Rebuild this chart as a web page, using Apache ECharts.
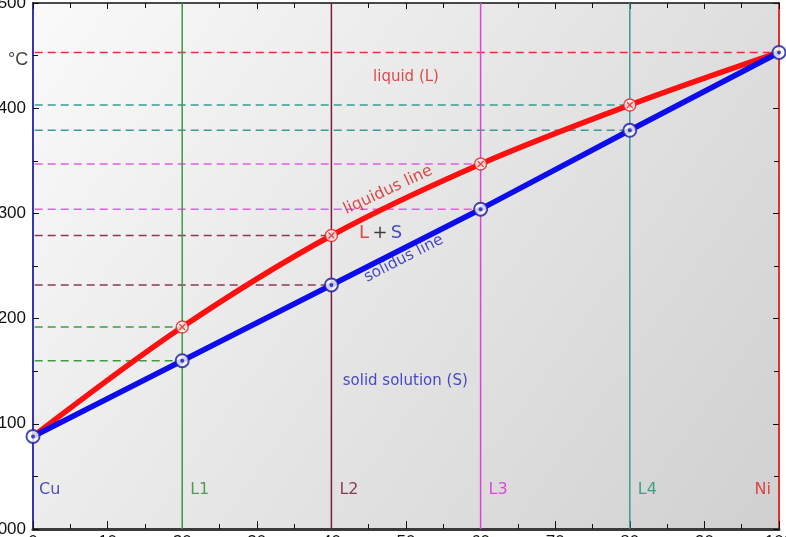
<!DOCTYPE html>
<html><head><meta charset="utf-8">
<script src="https://cdn.jsdelivr.net/npm/echarts@6/dist/echarts.min.js"></script>
<style>html,body{margin:0;padding:0;background:#fff}#c{width:786px;height:537px}</style>
</head><body><div id="c"></div>
<script>
// ---- data ----
const compositions = [0, 20, 40, 60, 80, 100];            // wt% Ni
const liquidus = [1088, 1192, 1279, 1347, 1403, 1453];      // °C
const solidus  = [1088, 1160, 1232, 1304, 1379, 1453];      // °C
const alloyX = [20, 40, 60, 80];
const alloyNames = ['L1', 'L2', 'L3', 'L4'];
const alloyColors = ['#3f9a3f', '#7e1a3c', '#e040e0', '#3a9a96'];
const alloyDashColors = ['#3f9a3f', '#8a3a58', '#e060e0', '#3a9a96'];
const alloyLabelColors = ['#2e8a2e', '#6e1030', '#e020e0', '#1f8f70'];
const yMin = 1000, yMax = 1500;
const xMin = 0, xMax = 100;
const dashStartX = -5;

const series = [];
const font = 'DejaVu Sans';

// horizontal dashed guide lines
function dash(x, t, color) {
  series.push({type: 'line', silent: true, clip: false, symbol: 'none', z: 1,
    data: [[dashStartX, t], [x, t]],
    lineStyle: {color: color, width: 1.5, type: [8, 5]}});
}
dash(0, liquidus[0], '#3030b0');
dash(100, liquidus[5], '#e03040');
alloyX.forEach((x, i) => {
  const k = compositions.indexOf(x);
  dash(x, liquidus[k], alloyDashColors[i]);
  dash(x, solidus[k], alloyDashColors[i]);
});
// vertical alloy lines
alloyX.forEach((x, i) => {
  series.push({type: 'line', silent: true, symbol: 'none', z: 2,
    data: [[x, yMin], [x, yMax]],
    lineStyle: {color: alloyColors[i], width: 1.5}});
});
// liquidus & solidus
series.push({type: 'line', name: 'liquidus', symbol: 'none', smooth: 0.35, z: 4,
  data: compositions.map((x, i) => [x, liquidus[i]]),
  lineStyle: {color: '#ff1010', width: 5.5}});
series.push({type: 'line', name: 'solidus', symbol: 'none', z: 5,
  data: compositions.map((x, i) => [x, solidus[i]]),
  lineStyle: {color: '#0c0cec', width: 5.5}});
// markers
const liqPts = compositions.slice(1, 5).map((x, i) => [x, liquidus[i + 1]]);
const solPts = compositions.map((x, i) => [x, solidus[i]]);
series.push({type: 'scatter', clip: false, z: 6, symbol: 'circle', symbolSize: 12, data: liqPts,
  itemStyle: {color: '#fff', borderColor: '#e02020', borderWidth: 1.5}});
series.push({type: 'scatter', clip: false, z: 7, symbol: 'path://M0,0L10,10M10,0L0,10', symbolSize: 6, data: liqPts,
  itemStyle: {color: 'rgba(0,0,0,0)', borderColor: '#e02020', borderWidth: 1.2}});
series.push({type: 'scatter', clip: false, z: 6, symbol: 'circle', symbolSize: 13, data: solPts,
  itemStyle: {color: '#fff', borderColor: '#1a1aa0', borderWidth: 2}});
series.push({type: 'scatter', clip: false, z: 7, symbol: 'circle', symbolSize: 4, data: solPts,
  itemStyle: {color: '#1a1aa0'}});

// text annotations (positioned in data coordinates)
function txt(x, y, text, color, extra) {
  return Object.assign({value: [x, y], label: Object.assign({show: true, formatter: text, color: color,
    fontFamily: font, fontSize: 15, position: 'inside'}, extra || {})});
}
const labelY = 1037;
const annotations = [
  txt(50, 1430, 'liquid (L)', '#d82020'),
  txt(47.6, 1322, 'liquidus line', '#d82020', {rotate: 25, fontSize: 16}),
  txt(49.7, 1257, 'solidus line', '#2020c0', {rotate: 27, fontSize: 15.5}),
  txt(49.9, 1141, 'solid solution (S)', '#2020c0'),
  {value: [46.6, 1281], label: {show: true, position: 'inside', formatter: '{r|L} {k|+} {b|S}',
    rich: {r: {color: '#d82020', fontSize: 18, fontFamily: font}, k: {color: '#111', fontSize: 18, fontFamily: font},
      b: {color: '#2020c0', fontSize: 18, fontFamily: font}}}},
  txt(-2, 1446, '°C', '#111', {fontSize: 18, fontFamily: 'Liberation Sans'}),
  txt(0, labelY, 'Cu', '#2626a8', {position: 'right', distance: 6, fontSize: 16}),
  txt(100, labelY, 'Ni', '#e02020', {position: 'left', distance: 8, fontSize: 16})
];
alloyX.forEach((x, i) => annotations.push(txt(x, labelY, alloyNames[i], alloyLabelColors[i], {position: 'right', distance: 8, fontSize: 16})));
series.push({type: 'scatter', clip: false, z: 8, symbolSize: 0, silent: true, data: annotations});

const plain = v => String(v);
const chart = echarts.init(document.getElementById('c'), null, {renderer: 'canvas'});
chart.setOption({
  animation: false,
  backgroundColor: '#fff',
  grid: {left: 33, right: 7, top: 3, bottom: 8, show: true, borderWidth: 0,
    containLabel: false, outerBoundsMode: 'none',
    backgroundColor: new echarts.graphic.LinearGradient(0, 0, 1, 1, [
      {offset: 0, color: '#fafafa'}, {offset: 1, color: '#d0d0d0'}])},
  xAxis: [
    {type: 'value', min: xMin, max: xMax, interval: 10, position: 'bottom',
      axisLine: {show: true, onZero: false, lineStyle: {color: '#3a3a3a', width: 3}},
      axisTick: {show: true, inside: true, length: 8, lineStyle: {color: '#111'}},
      minorTick: {show: true, splitNumber: 2, length: 5, lineStyle: {color: '#111'}},
      axisLabel: {show: true, color: '#111', fontSize: 17, fontFamily: 'Liberation Sans', margin: 5, formatter: plain},
      splitLine: {show: false}},
    {type: 'value', min: xMin, max: xMax, interval: 10, position: 'top',
      axisLine: {show: true, onZero: false, lineStyle: {color: '#111', width: 1.5}},
      axisTick: {show: true, inside: true, length: 6, lineStyle: {color: '#111'}},
      minorTick: {show: true, splitNumber: 2, length: 5, lineStyle: {color: '#111'}},
      axisLabel: {show: false}, splitLine: {show: false}}
  ],
  yAxis: [
    {type: 'value', min: yMin, max: yMax, interval: 100, position: 'left',
      axisLine: {show: true, onZero: false, lineStyle: {color: '#3535b5', width: 2}},
      axisTick: {show: true, inside: true, length: 6, lineStyle: {color: '#111'}},
      minorTick: {show: true, splitNumber: 2, length: 5, lineStyle: {color: '#111'}},
      axisLabel: {show: true, color: '#111', fontSize: 17, fontFamily: 'Liberation Sans', margin: 7, formatter: plain},
      splitLine: {show: false}},
    {type: 'value', min: yMin, max: yMax, interval: 100, position: 'right',
      axisLine: {show: true, onZero: false, lineStyle: {color: '#e03030', width: 2}},
      axisTick: {show: true, inside: true, length: 6, lineStyle: {color: '#111'}},
      minorTick: {show: true, splitNumber: 2, length: 5, lineStyle: {color: '#111'}},
      axisLabel: {show: false}, splitLine: {show: false}}
  ],
  series: series
});
</script></body></html>
